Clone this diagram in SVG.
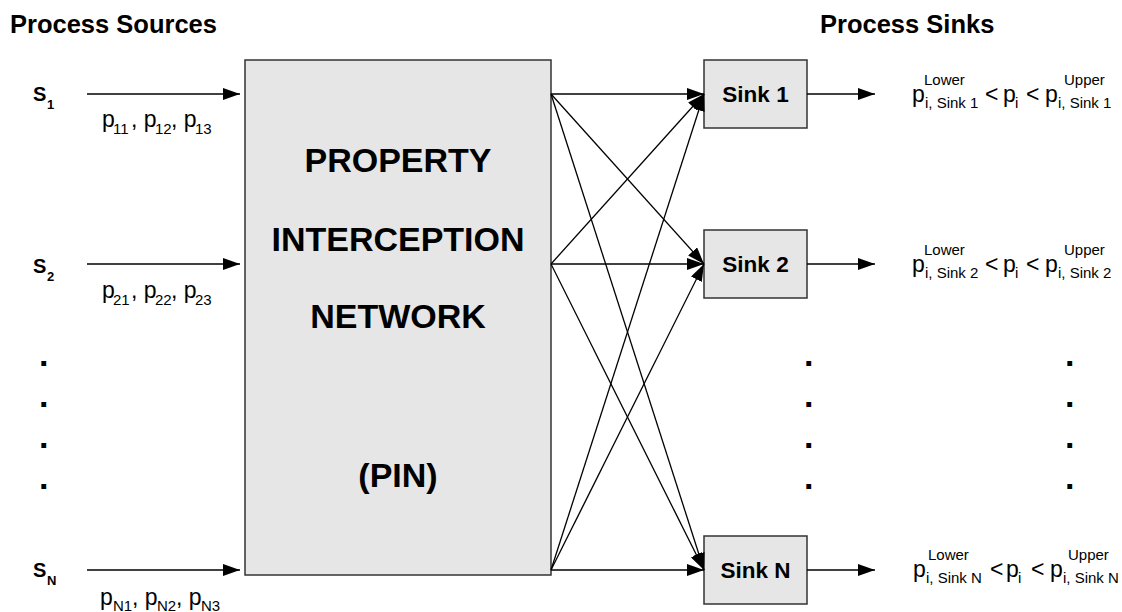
<svg xmlns="http://www.w3.org/2000/svg" width="1122" height="612" viewBox="0 0 1122 612">
<style>
text{font-family:"Liberation Sans",Arial,sans-serif;fill:#000}
.h{font-size:25.5px;font-weight:bold}
.big{font-size:34px;font-weight:bold;text-anchor:middle}
.sk{font-size:22.5px;font-weight:bold;text-anchor:middle}
.s{font-size:20px;font-weight:bold}
.ss{font-size:13px;font-weight:bold}
.p{font-size:23px}
.sub{font-size:15px}
.sup{font-size:15px}
.dot{font-size:34px;font-weight:bold}
.box{fill:#e6e6e6;stroke:#333;stroke-width:1.5}
.ln{stroke:#000;stroke-width:1.3;fill:none;marker-end:url(#ah)}
</style>
<defs>
<marker id="ah" markerUnits="userSpaceOnUse" markerWidth="18" markerHeight="12" refX="17" refY="6" orient="auto">
<path d="M0,0 L17,6 L0,12 Z" fill="#000"/>
</marker>
</defs>
<g id="titles">
<text class="h" x="10" y="33">Process Sources</text>
<text class="h" x="820" y="33">Process Sinks</text>
</g>
<g id="source1">
<text class="s" x="33" y="101">S</text><text class="ss" x="47" y="109">1</text>
<text class="p" x="102" y="127">p</text><text class="sub" x="113" y="134">11</text><text class="p" x="131" y="127">, p</text><text class="sub" x="155" y="134">12</text><text class="p" x="171" y="127">, p</text><text class="sub" x="195" y="134">13</text>
</g>
<g id="source2">
<text class="s" x="33" y="273">S</text><text class="ss" x="47" y="281">2</text>
<text class="p" x="102" y="298">p</text><text class="sub" x="113" y="305">21</text><text class="p" x="131" y="298">, p</text><text class="sub" x="155" y="305">22</text><text class="p" x="171" y="298">, p</text><text class="sub" x="195" y="305">23</text>
</g>
<g id="sourceN">
<text class="s" x="33" y="577">S</text><text class="ss" x="47" y="585">N</text>
<text class="p" x="100" y="605">p</text><text class="sub" x="113" y="611">N1</text><text class="p" x="132" y="605">, p</text><text class="sub" x="157" y="611">N2</text><text class="p" x="176" y="605">, p</text><text class="sub" x="201" y="611">N3</text>
</g>
<g id="dots">
<text class="dot" x="39" y="366">.</text><text class="dot" x="39" y="407">.</text><text class="dot" x="39" y="448">.</text><text class="dot" x="39" y="489">.</text>
<text class="dot" x="804" y="366">.</text><text class="dot" x="804" y="407">.</text><text class="dot" x="804" y="448">.</text><text class="dot" x="804" y="489">.</text>
<text class="dot" x="1065" y="366">.</text><text class="dot" x="1065" y="407">.</text><text class="dot" x="1065" y="448">.</text><text class="dot" x="1065" y="489">.</text>
</g>
<g id="pin">
<rect class="box" x="245" y="60" width="306" height="515"/>
<text class="big" x="398" y="172">PROPERTY</text>
<text class="big" x="398" y="251">INTERCEPTION</text>
<text class="big" x="398" y="328">NETWORK</text>
<text class="big" x="398" y="487">(PIN)</text>
</g>
<g id="sink1">
<rect class="box" x="704" y="60" width="103" height="68"/>
<text class="sk" x="755.5" y="102">Sink 1</text>
</g>
<g id="sink2">
<rect class="box" x="704" y="230" width="103" height="68"/>
<text class="sk" x="755.5" y="272">Sink 2</text>
</g>
<g id="sinkN">
<rect class="box" x="704" y="536" width="103" height="68"/>
<text class="sk" x="755.5" y="578">Sink N</text>
</g>
<g id="bounds1">
<text class="p" x="912" y="102">p</text><text class="sup" x="924" y="85">Lower</text><text class="sub" x="925" y="108">i, Sink 1</text>
<text class="p" x="985" y="102">&lt;</text>
<text class="p" x="1003" y="102">p</text><text class="sub" x="1015" y="108">i</text>
<text class="p" x="1026" y="102">&lt;</text>
<text class="p" x="1045" y="102">p</text><text class="sup" x="1064" y="85">Upper</text><text class="sub" x="1058" y="108">i, Sink 1</text>
</g>
<g id="bounds2">
<text class="p" x="912" y="272">p</text><text class="sup" x="924" y="255">Lower</text><text class="sub" x="925" y="278">i, Sink 2</text>
<text class="p" x="985" y="272">&lt;</text>
<text class="p" x="1003" y="272">p</text><text class="sub" x="1015" y="278">i</text>
<text class="p" x="1026" y="272">&lt;</text>
<text class="p" x="1045" y="272">p</text><text class="sup" x="1064" y="255">Upper</text><text class="sub" x="1058" y="278">i, Sink 2</text>
</g>
<g id="boundsN">
<text class="p" x="913" y="577">p</text><text class="sup" x="928" y="560">Lower</text><text class="sub" x="926" y="583">i, Sink N</text>
<text class="p" x="990" y="577">&lt;</text>
<text class="p" x="1006" y="577">p</text><text class="sub" x="1018" y="583">i</text>
<text class="p" x="1031" y="577">&lt;</text>
<text class="p" x="1050" y="577">p</text><text class="sup" x="1068" y="560">Upper</text><text class="sub" x="1063" y="583">i, Sink N</text>
</g>
<g id="connectors">
<line class="ln" x1="87" y1="94" x2="240" y2="94"/>
<line class="ln" x1="87" y1="264" x2="240" y2="264"/>
<line class="ln" x1="87" y1="570" x2="240" y2="570"/>
<line class="ln" x1="551" y1="94" x2="704" y2="94"/>
<line class="ln" x1="551" y1="94" x2="704" y2="264"/>
<line class="ln" x1="551" y1="94" x2="704" y2="570"/>
<line class="ln" x1="551" y1="264" x2="704" y2="94"/>
<line class="ln" x1="551" y1="264" x2="704" y2="264"/>
<line class="ln" x1="551" y1="264" x2="704" y2="570"/>
<line class="ln" x1="551" y1="570" x2="704" y2="94"/>
<line class="ln" x1="551" y1="570" x2="704" y2="264"/>
<line class="ln" x1="551" y1="570" x2="704" y2="570"/>
<line class="ln" x1="807" y1="94" x2="875" y2="94"/>
<line class="ln" x1="807" y1="264" x2="875" y2="264"/>
<line class="ln" x1="807" y1="570" x2="875" y2="570"/>
</g>
</svg>
